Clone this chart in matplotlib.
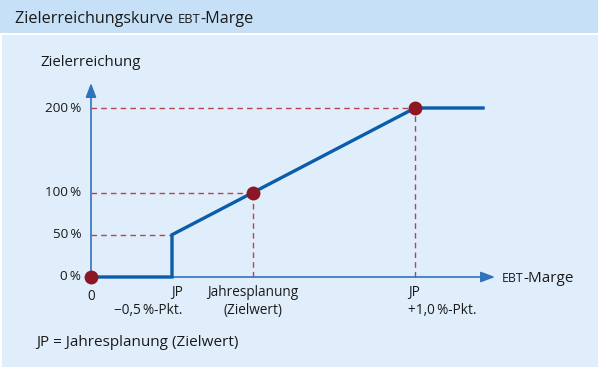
import matplotlib

matplotlib.use("Agg")

import matplotlib.pyplot as plt
from matplotlib.patches import Rectangle
from matplotlib.transforms import Affine2D

plt.rcParams["font.family"] = ["Open Sans", "DejaVu Sans"]

# positions on the EBT-Marge axis, in %-points relative to JP
x_origin = -1.0
x_jp_minus = -0.5
x_jp = 0.0
x_jp_plus = 1.0
x_end = 1.42

curve_x = [x_origin, x_jp_minus, x_jp_minus, x_jp, x_jp_plus, x_end]
curve_y = [0, 0, 50, 100, 200, 200]

point_x = [x_origin, x_jp, x_jp_plus]
point_y = [0, 100, 200]

y_ticks = [0, 50, 100, 200]
y_tick_labels = ["0\u2009%", "50\u2009%", "100\u2009%", "200\u2009%"]

# dashed guide lines: (x, y) of the corner they lead to
guide_x = [x_jp_minus, x_jp, x_jp_plus]
guide_y = [50, 100, 200]

BLUE = "#0b5cab"
AXIS_BLUE = "#2f74bb"
RED = "#8c1622"
DASH_RED = "#b5444c"
HEADER = "#c6e1f7"
PANEL = "#e0eefb"
TEXT = "#1a1a1a"

W, H = 602, 371

fig = plt.figure(figsize=(W / 100, H / 100), dpi=100)
fig.patch.set_facecolor("white")

# background bands (figure pixel coords)
fig.patches.append(
    Rectangle((0, (H - 33) / H), 598 / W, 33 / H, transform=fig.transFigure,
              facecolor=HEADER, edgecolor="none", zorder=-5)
)
fig.patches.append(
    Rectangle((2 / W, (H - 367) / H), 596 / W, (367 - 35) / H,
              transform=fig.transFigure, facecolor=PANEL, edgecolor="none",
              zorder=-5)
)

# axes box: x pixel 91..495, y pixel 277..83
left_px, right_px, bottom_px, top_px = 91, 495, 277, 83
ax = fig.add_axes([left_px / W, (H - bottom_px) / H,
                   (right_px - left_px) / W, (bottom_px - top_px) / H])
ax.set_zorder(2)
ax.set_xlim(-1.0, (right_px - 253) / 162)
ax.set_ylim(0, (bottom_px - top_px) / 0.845)
ax.patch.set_alpha(0)
for spine in ax.spines.values():
    spine.set_visible(False)
ax.set_xticks([])
ax.set_yticks([])

xmin, xmax = ax.get_xlim()
ymin, ymax = ax.get_ylim()

# axes with arrows
arrow = dict(arrowstyle="-|>,head_length=0.85,head_width=0.32",
             color=AXIS_BLUE, lw=1.2, shrinkA=0, shrinkB=0)
ax.annotate("", xy=(xmax, 0), xytext=(xmin, 0), arrowprops=arrow,
            annotation_clip=False, zorder=2)
ax.annotate("", xy=(xmin, ymax), xytext=(xmin, 0), arrowprops=arrow,
            annotation_clip=False, zorder=2)

# dashed guides
for gx, gy in zip(guide_x, guide_y):
    ax.plot([xmin, gx], [gy, gy], color=DASH_RED, lw=1, ls=(0, (4, 3)),
            clip_on=False, zorder=1)
    if gx != x_jp_minus:
        ax.plot([gx, gx], [0, gy], color=DASH_RED, lw=1, ls=(0, (4, 3)),
                clip_on=False, zorder=1)

# curve
ax.plot(curve_x, curve_y, color=BLUE, lw=2.4, solid_joinstyle="miter",
        clip_on=False, zorder=3)
ax.scatter(point_x, point_y, s=100, color=RED, zorder=4, clip_on=False,
           linewidths=0)

# y tick labels
for v, lab in zip(y_ticks, y_tick_labels):
    ax.text(xmin - 0.06, v, lab, ha="right", va="center", fontsize=9.7,
            color=TEXT)

ax.text(xmin - 0.31, ymax + 24, "Zielerreichung", ha="left", va="center",
        fontsize=10.8, color=TEXT)

# x labels
ax.text(x_origin, -14, "0", ha="center", va="top", fontsize=9.8, color=TEXT)
ax.text(x_jp_minus + 0.065, -10, "JP\n\u22120,5\u2009%-Pkt.", ha="right",
        va="top", fontsize=9.8, color=TEXT, multialignment="right",
        linespacing=1.25)
ax.text(x_jp, -10, "Jahresplanung\n(Zielwert)", ha="center", va="top",
        fontsize=9.8, color=TEXT, multialignment="center", linespacing=1.25)
ax.text(x_jp_plus - 0.045, -10, "JP\n+1,0\u2009%-Pkt.", ha="left", va="top",
        fontsize=9.8, color=TEXT, multialignment="left", linespacing=1.25)


def small_caps_line(x, y, parts):
    # parts: list of (text, fontsize), placed one after another in pixels
    pix = Affine2D()
    fig.canvas.draw()
    renderer = fig.canvas.get_renderer()
    for text, size in parts:
        t = fig.text(x, y, text, fontsize=size, transform=pix,
                     ha="left", va="baseline", color=TEXT, zorder=5)
        bb = t.get_window_extent(renderer)
        x = bb.x1


# EBT-Marge x axis label
small_caps_line(502, H - 282, [("EBT", 8.8), ("-Marge", 11)])

# title
small_caps_line(15, H - 23, [("Zielerreichungskurve ", 11.6), ("EBT", 9.4),
                             ("-Marge", 11.6)])

# footnote
fig.text(36 / W, (H - 343) / H, "JP = Jahresplanung (Zielwert)", ha="left",
         va="center", fontsize=11, color=TEXT)

fig.savefig("out.png", dpi=100)
